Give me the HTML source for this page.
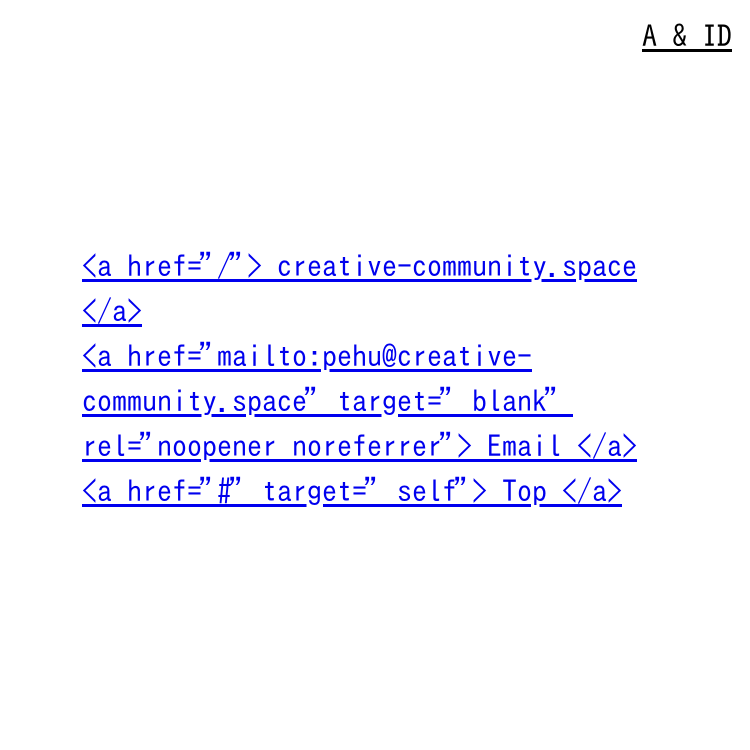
<!DOCTYPE html>
<html><head><meta charset="utf-8"><style>
body{margin:0;width:750px;height:750px;background:#fff;overflow:hidden;position:relative;font-family:"IPAGothic","Liberation Mono",monospace;}
.t{position:absolute;right:18px;top:16px;font-size:30px;color:#000;text-decoration:underline;line-height:40px;}
.m{position:absolute;left:82px;top:244px;font-size:30px;line-height:45px;color:#0000ee;white-space:pre;}
.m span{text-decoration:underline;}
.q{display:inline-block;width:15px;overflow:visible;text-decoration:underline;font-style:normal;}
.q::before{content:"”";position:relative;left:-4px;}
</style></head><body>
<div class="t">A &amp; ID</div>
<div class="m"><span>&lt;a href=<i class="q"></i>/<i class="q"></i>&gt; creative-community.space</span>
<span>&lt;/a&gt;</span>
<span>&lt;a href=<i class="q"></i>mailto:pehu@creative-</span>
<span>community.space<i class="q"></i> target=<i class="q"></i>_blank<i class="q"></i></span>
<span>rel=<i class="q"></i>noopener noreferrer<i class="q"></i>&gt; Email &lt;/a&gt;</span>
<span>&lt;a href=<i class="q"></i>#<i class="q"></i> target=<i class="q"></i>_self<i class="q"></i>&gt; Top &lt;/a&gt;</span></div>
</body></html>
